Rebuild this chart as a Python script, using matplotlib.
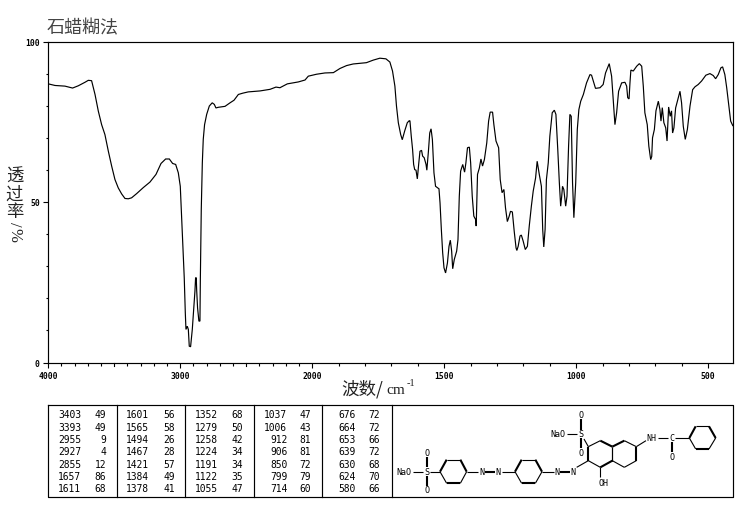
import numpy as np
import matplotlib
matplotlib.use("Agg")
import matplotlib.pyplot as plt
from matplotlib.ticker import FixedLocator, NullFormatter

TITLE = "石蜡糊法"
YLABEL_CHARS = ["透", "过", "率"]
X_MAJOR = [4000, 3000, 2000, 1500, 1000, 500]
X_MEDIUM = [3500, 2500]
X_MINOR = list(range(400, 4000, 100))
Y_MAJOR = [0, 50, 100]
Y_MINOR = list(range(0, 100, 10))

# O-H / C-H region
wn_high = [4000,3949,3874,3816,3773,3722,3697,3672,3646,3621,3596,3571,3545,3520,3495,3470,3444,3419,3394,3369,3331,3280,3230,3184,3146,3111,3083,3058,3035,3015,3000,2990,2980,2970,2962,2957,2947,2939,2932,2922,2909,2899,2889,2884,2879,2876,2869,2859,2851,2848,2841,2833,2826,2816,2800,2780,2758,2742,2730,2712,2661,2623,2593,2560,2527,2485,2396,2320,2275,2245,2189,2106,2055,2030]
t_high = [86.8,86.3,86.1,85.5,86.2,87.3,87.9,87.8,83.5,78.3,74.1,71.0,65.8,61.2,57.0,54.4,52.5,51.1,51.0,51.3,52.6,54.5,56.2,58.6,62.0,63.4,63.4,62.0,61.7,59.1,54.9,45.6,36.2,26.4,15.5,10.3,11.3,10.3,5.1,4.9,10.3,16.5,22.2,26.4,26.4,22.7,17.0,12.9,12.9,25.9,47.7,62.2,69.5,74.1,77.3,79.9,80.9,80.4,79.3,79.5,79.8,80.9,81.7,83.5,83.9,84.3,84.6,85.1,85.8,85.6,86.8,87.4,88.0,89.2]
# 2000-1100 region
wn_mid = [1984,1952,1920,1895,1870,1845,1795,1769,1744,1721,1706,1696,1687,1681,1674,1665,1659,1650,1640,1633,1630,1625,1620,1616,1612,1607,1602,1597,1592,1586,1582,1576,1569,1566,1560,1555,1550,1545,1539,1533,1520,1516,1511,1506,1501,1495,1488,1482,1477,1472,1468,1462,1453,1448,1443,1438,1430,1423,1418,1412,1405,1400,1394,1388,1381,1379,1374,1367,1361,1355,1348,1339,1332,1326,1317,1312,1304,1294,1288,1281,1274,1268,1261,1254,1249,1242,1235,1228,1225,1220,1213,1208,1201,1193,1185,1178,1170,1163,1154,1148,1140,1132,1127,1123,1118,1113,1106,1100]
t_mid = [89.8,90.2,90.3,91.6,92.5,93.0,93.4,94.2,94.8,94.6,93.6,90.8,86.1,79.9,74.7,71.0,69.4,72.1,74.7,75.3,75.3,70.5,66.4,61.7,60.1,59.9,57.2,61.7,65.8,66.1,64.3,63.8,61.7,59.9,65.8,71.5,72.8,69.5,59.1,54.9,54.1,49.7,41.4,34.2,29.5,27.9,31.0,36.2,38.1,34.7,29.2,32.1,34.7,38.3,51.8,59.6,61.7,59.3,62.2,66.9,67.1,62.2,51.8,45.6,44.5,42.5,58.6,60.6,63.4,61.2,63.2,68.4,75.2,78.0,78.0,74.1,69.0,66.9,57.0,52.9,53.9,48.2,43.9,45.6,47.1,46.9,40.9,35.7,34.9,36.2,39.4,39.7,37.8,35.2,36.2,42.5,48.7,53.4,57.5,62.7,58.6,54.9,41.4,36.0,41.4,57.0,62.2,70.5]
# fingerprint region
wn_low = [1091,1083,1077,1070,1064,1059,1055,1052,1047,1040,1035,1029,1024,1019,1014,1009,1002,996,990,983,973,961,948,942,933,927,910,898,889,875,866,860,853.4,847,839.5,828,815.5,809,805,800,796.5,793,784,771,761,752,746,740,731,725,718,714,711,704,698,689,683,679,674,668,661,656,650,644,639,635,630,623.5,613.5,607,601,594.5,587,579,569,559,550,538,525,509,493.5,481,472,462,452,445.5,437,430,421,415,407]
t_low = [77.8,78.6,77.3,66.4,56.0,48.7,51.8,54.9,53.9,48.7,51.8,67.4,77.3,76.7,56.0,45.1,56.0,72.6,78.8,81.4,83.5,87.1,89.7,89.5,87.1,85.4,85.6,86.6,90.2,93.1,89.2,81.9,74.1,77.8,84.5,87.1,87.3,86.1,82.5,82.1,87.1,91.1,90.8,92.3,93.1,92.3,86.1,77.8,74.1,67.4,63.2,64.2,70,72.6,78.4,81.4,78.8,75.2,79.4,74.7,73.1,69,79.6,76.7,78.4,71.5,73.1,79.3,82.5,84.5,80.9,73.6,69.5,72.6,79.9,85,85.9,86.6,87.7,89.5,90,89.4,88.4,89.7,91.8,92.1,89.7,85.6,79.3,75.2,73.8]

# Peak table
table_wn = [
    [3403,3393,2955,2927,2855,1657,1611],
    [1601,1565,1494,1467,1421,1384,1378],
    [1352,1279,1258,1224,1191,1122,1055],
    [1037,1006,912,906,850,799,714],
    [676,664,653,639,630,624,580],
]
table_t = [
    [49,49,9,4,12,86,68],
    [56,58,26,28,57,49,41],
    [68,50,42,34,34,35,47],
    [47,43,81,81,72,79,60],
    [72,72,66,72,68,70,66],
]

W, H = 737, 510
fig = plt.figure(figsize=(W/100, H/100), dpi=100, facecolor="white")
CJK = ["Noto Sans CJK SC", "DejaVu Sans"]
MONO = "DejaVu Sans Mono"

L, R, T, B = 48.3, 733.3, 42.5, 363.5
ax = fig.add_axes([L/W, 1-B/H, (R-L)/W, (B-T)/H])

def fwd(w):
    w = np.asarray(w, dtype=float)
    return np.where(w >= 2000, 2000 + (w-2000)/2, w)
def inv(v):
    v = np.asarray(v, dtype=float)
    return np.where(v >= 2000, 2000 + (v-2000)*2, v)
ax.set_xscale("function", functions=(fwd, inv))
ax.set_xlim(4000, 405)
ax.set_ylim(0, 100)

wn = wn_high + wn_mid + wn_low
tr = t_high + t_mid + t_low
ax.plot(wn, tr, color="black", lw=0.85, solid_joinstyle="miter")

ax.xaxis.set_major_locator(FixedLocator(X_MAJOR))
ax.xaxis.set_minor_locator(FixedLocator([v for v in X_MINOR if v not in X_MAJOR and v not in X_MEDIUM]))
ax.xaxis.set_major_formatter(matplotlib.ticker.FixedFormatter([str(v) for v in X_MAJOR]))
ax.xaxis.set_minor_formatter(NullFormatter())
ax.yaxis.set_major_locator(FixedLocator(Y_MAJOR))
ax.yaxis.set_minor_locator(FixedLocator([v for v in Y_MINOR if v not in Y_MAJOR]))
ax.yaxis.set_major_formatter(matplotlib.ticker.FixedFormatter([str(v) for v in Y_MAJOR]))
ax.yaxis.set_minor_formatter(NullFormatter())
ax.tick_params(which="major", length=3.6, width=0.8, pad=2.5, labelsize=5.8)
ax.tick_params(which="minor", length=1.8, width=0.8)
for lab in ax.get_xticklabels() + ax.get_yticklabels():
    lab.set_family(MONO)
    lab.set_fontweight("bold")
for v in X_MEDIUM:
    ax.plot([v, v], [0, -1.1], color="black", lw=0.8, clip_on=False)
for s in ax.spines.values():
    s.set_linewidth(0.85)

# pixel-space overlay for captions, table and structure
ov = fig.add_axes([0, 0, 1, 1], facecolor="none")
ov.set_xlim(0, W); ov.set_ylim(H, 0); ov.axis("off")

ov.text(47, 28, TITLE, family=CJK, fontsize=13, color="#444444", va="center", ha="left")
for ch, y in zip(YLABEL_CHARS, [177, 195, 212]):
    ov.text(14.5, y, ch, family=CJK, fontsize=12.5, color="#222222", ha="center", va="center")
ov.text(14.5, 224, "/", family="Liberation Serif", fontsize=12, rotation=270, ha="center", va="center", color="#222222")
ov.text(14.5, 235, "%", family="Liberation Serif", fontsize=12, rotation=270, ha="center", va="center", color="#222222")
ov.text(341, 389, "波数/", family=CJK, fontsize=12.6, color="#222222", ha="left", va="center")
ov.text(386, 390.5, "cm", family="Liberation Serif", fontsize=11, color="#222222", ha="left", va="center")
ov.text(406.5, 384, "-1", family="Liberation Serif", fontsize=7.5, color="#222222", ha="left", va="center")

# table frame
tl, tr_, tt, tb = 48.3, 733, 406, 498.3
ov.plot([tl, tr_, tr_, tl, tl], [tt, tt, tb, tb, tt], color="black", lw=0.85)
for x in [117.3, 185.3, 254.3, 322.3, 391.7]:
    ov.plot([x, x], [tt, tb], color="black", lw=0.85)
rows_y = [415.3, 427.7, 440, 452.3, 464.6, 476.7, 489.3]
wn_right = [81, 149.3, 218.3, 287.3, 355.7]
t_right = [106, 175, 243.3, 311, 380]
for c in range(5):
    for r in range(7):
        ov.text(wn_right[c], rows_y[r], str(table_wn[c][r]), family=MONO, fontsize=6.9, ha="right", va="center")
        ov.text(t_right[c], rows_y[r], str(table_t[c][r]), family=MONO, fontsize=6.9, ha="right", va="center")

# chemical structure (coordinates from a 3x crop origin 380,400)
def P(z):
    return 380 + z[0]/3, 400 + z[1]/3
def bond(a, b, lw=0.8):
    (x0, y0), (x1, y1) = P(a), P(b)
    ov.plot([x0, x1], [y0, y1], color="black", lw=lw, solid_capstyle="butt")
def ring(pts, thick):
    n = len(pts)
    for i in range(n):
        bond(pts[i], pts[(i+1) % n], 1.5 if i in thick else 0.8)
def atom(z, s):
    x, y = P(z)
    ov.text(x, y, s, family=MONO, fontsize=6.0, ha="center", va="center")

ring([(180,218),(200,182),(241,182),(260,218),(241,253),(200,253)], {0,2,4})
ring([(405,218),(425,182),(466,182),(486,218),(466,253),(425,253)], {0,2,4})
ring([(625,185),(625,143),(661,125),(697,143),(697,185),(661,205)], {0,2,4})
ring([(697,143),(733,125),(769,143),(769,185),(733,205),(697,185)], {0,2})
ring([(928,117),(947,82),(987,82),(1007,117),(987,150),(947,150)], {0,2,4})
for a, b, lw in [((98,218),(130,218),.8),((150,218),(180,218),.8),((140,175),(140,205),1.5),((140,232),(140,262),1.5),
                 ((260,218),(295,218),.8),((315,218),(345,218),1.5),((365,218),(405,218),.8),
                 ((486,218),(522,218),.8),((540,218),(570,218),1.5),((590,205),(625,185),.8),
                 ((661,205),(661,235),.8),((625,143),(612,120),.8),((603,60),(603,92),1.5),((603,118),(603,148),1.5),
                 ((560,105),(592,105),.8),((769,143),(798,125),.8),((835,117),(865,117),.8),((875,128),(875,160),1.5),((885,117),(928,117),.8)]:
    bond(a, b, lw)
for z, s in [((72,218),"NaO"),((140,218),"S"),((140,162),"O"),((140,272),"O"),((305,218),"N"),((355,218),"N"),
             ((532,218),"N"),((580,218),"N"),((672,250),"OH"),((603,105),"S"),((603,48),"O"),((603,160),"O"),
             ((535,105),"NaO"),((815,117),"NH"),((875,117),"C"),((875,172),"O")]:
    atom(z, s)

fig.savefig("out.png", dpi=100, facecolor="white")
